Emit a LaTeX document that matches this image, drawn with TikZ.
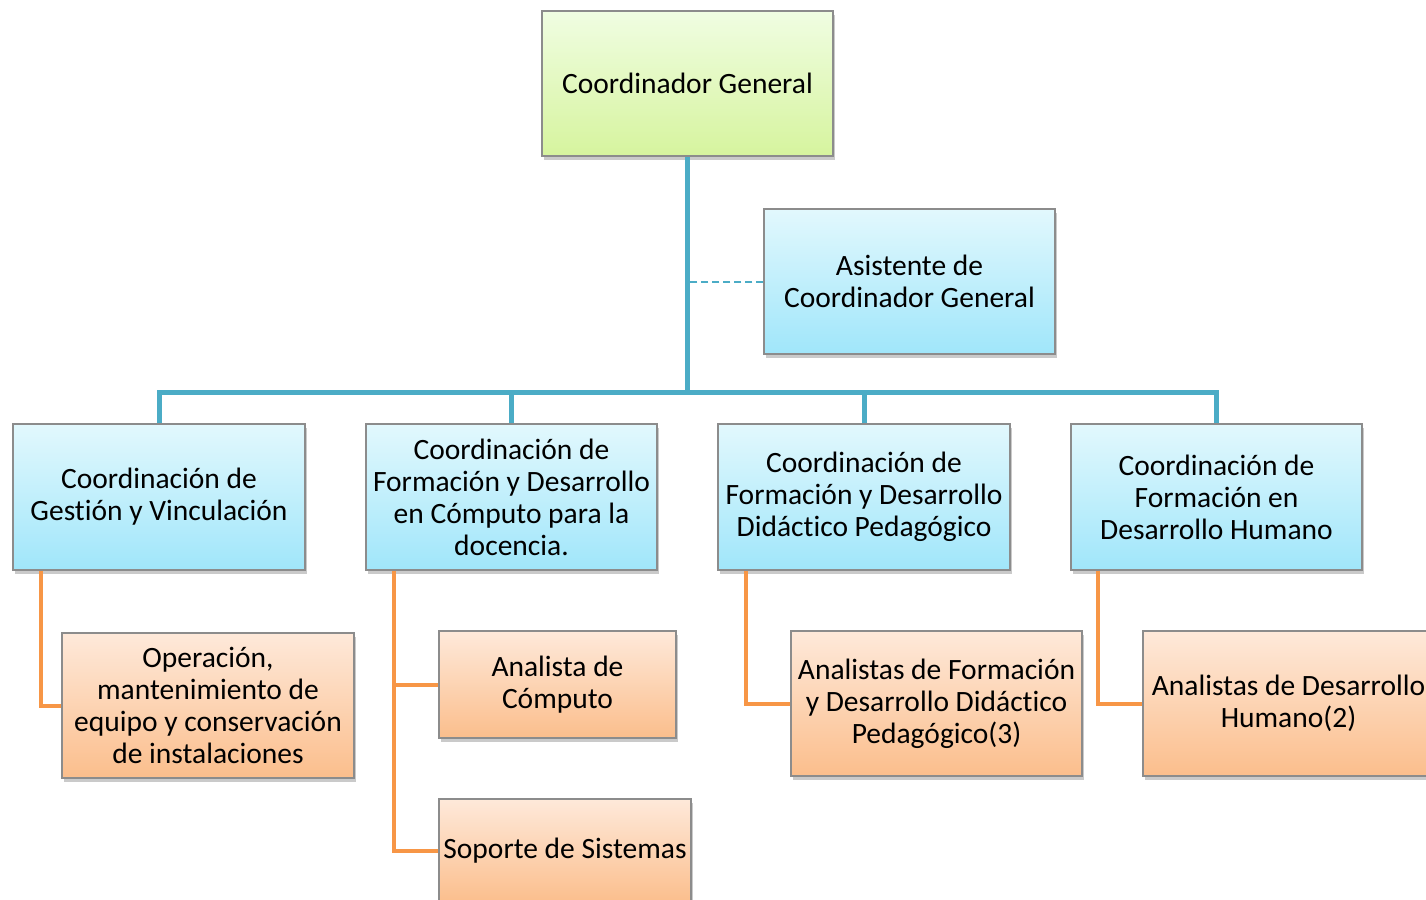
\documentclass[tikz,border=0pt]{standalone}
\usepackage{fontspec}
\setmainfont{Carlito}[Ligatures=NoCommon]
\usetikzlibrary{shadows}
\definecolor{tealline}{HTML}{4BACC6}
\definecolor{orangeline}{HTML}{F79646}
\definecolor{boxborder}{HTML}{8C8C8C}
\begin{document}
\begin{tikzpicture}[x=1pt,y=-1pt,
    box/.style={draw=boxborder,line width=1.2pt,align=center,inner sep=2pt,
      font=\fontsize{29.5}{32}\selectfont,
      drop shadow={shadow xshift=2pt,shadow yshift=-4pt,opacity=.35,fill=black!60}},
    greenbox/.style={box,top color={rgb,255:red,240;green,253;blue,226},bottom color={rgb,255:red,214;green,244;blue,158}},
    bluebox/.style={box,top color={rgb,255:red,226;green,248;blue,253},bottom color={rgb,255:red,160;green,230;blue,250}},
    orangebox/.style={box,top color={rgb,255:red,254;green,233;blue,218},bottom color={rgb,255:red,251;green,190;blue,140}},
    bline/.style={tealline,line width=5pt},
    oline/.style={orangeline,line width=4pt}]
  \clip(0,0)rectangle(1426,899);
  % cajas
  \node[greenbox,minimum width=291pt,minimum height=145pt](coord)at(687.5,83.5){Coordinador General};
  \node[bluebox,minimum width=291pt,minimum height=145pt](asist)at(909.5,281.5){Asistente de\\Coordinador General};
  \node[bluebox,minimum width=292pt,minimum height=146pt](gest)at(159,497){Coordinación de\\Gestión y Vinculación};
  \node[bluebox,minimum width=291pt,minimum height=146pt](comp)at(511.5,497){Coordinación de\\Formación y Desarrollo\\en Cómputo para la\\docencia.};
  \node[bluebox,minimum width=292pt,minimum height=146pt](didac)at(864,497){Coordinación de\\Formación y Desarrollo\\Didáctico Pedagógico};
  \node[bluebox,minimum width=291pt,minimum height=146pt](humano)at(1216.5,497){Coordinación de\\Formación en\\Desarrollo Humano};
  \node[orangebox,minimum width=292pt,minimum height=145pt](oper)at(208,705.5){Operación,\\mantenimiento de\\equipo y conservación\\de instalaciones};
  \node[orangebox,minimum width=237pt,minimum height=107pt](analc)at(557.5,684.5){Analista de\\Cómputo};
  \node[orangebox,minimum width=252pt,minimum height=104pt](soporte)at(565,851){Soporte de Sistemas};
  \node[orangebox,minimum width=291pt,minimum height=145pt](andid)at(936.5,703.5){Analistas de Formación\\y Desarrollo Didáctico\\Pedagógico(3)};
  \node[orangebox,minimum width=291pt,minimum height=145pt](anhum)at(1288.5,703.5){Analistas de Desarrollo\\Humano(2)};
  % lineas
  \coordinate(bus)at(0,392);
  \draw[bline](coord.south)--(coord.south|-bus);
  \draw[bline](gest.north)--(gest.north|-bus)--(humano.north|-bus)--(humano.north);
  \draw[bline](comp.north)--(comp.north|-bus);
  \draw[bline](didac.north)--(didac.north|-bus);
  \draw[tealline,line width=2pt,dash pattern=on 7pt off 4pt](asist.west)--(asist.west-|coord.south);
  \coordinate(gtrunk)at([xshift=29pt]gest.south west);
  \coordinate(ctrunk)at([xshift=29pt]comp.south west);
  \coordinate(dtrunk)at([xshift=29pt]didac.south west);
  \coordinate(htrunk)at([xshift=28pt]humano.south west);
  \draw[oline](gtrunk)|-(oper.west);
  \draw[oline](ctrunk)|-(soporte.west);
  \draw[oline](analc.west)--(analc.west-|ctrunk);
  \draw[oline](dtrunk)|-(andid.west);
  \draw[oline](htrunk)|-(anhum.west);
\end{tikzpicture}
\end{document}
